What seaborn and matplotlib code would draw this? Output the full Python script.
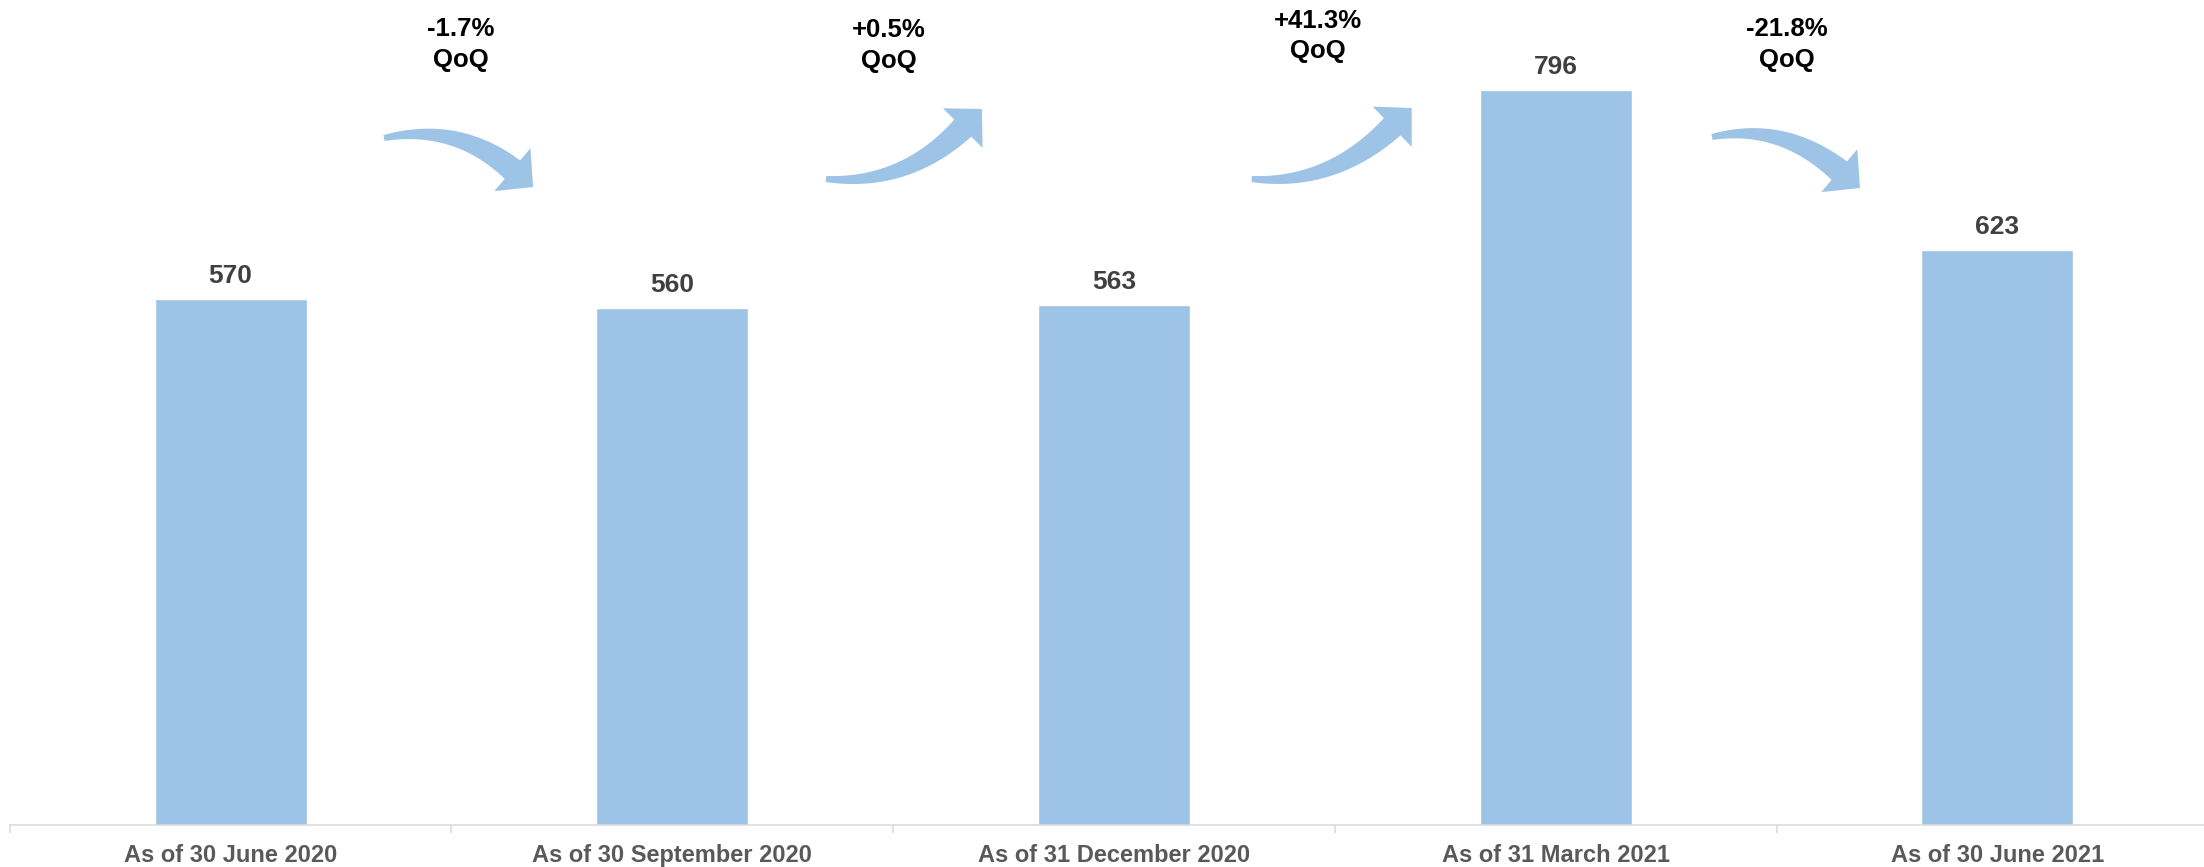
import numpy as np
import pandas as pd
import matplotlib
matplotlib.use("Agg")
import matplotlib.pyplot as plt
import seaborn as sns
from matplotlib.patches import Polygon
from matplotlib.transforms import IdentityTransform, blended_transform_factory

# ---- data ----
periods = ["As of 30 June 2020", "As of 30 September 2020", "As of 31 December 2020",
           "As of 31 March 2021", "As of 30 June 2021"]
values = [570, 560, 563, 796, 623]
qoq_changes = ["-1.7%", "+0.5%", "+41.3%", "-21.8%"]

BAR_COLOR = "#9DC3E6"
VALUE_COLOR = "#404040"
TICK_COLOR = "#595959"
AXIS_COLOR = "#D9D9D9"

sns.set_style("white")
plt.rcParams["font.family"] = ["Liberation Sans", "DejaVu Sans"]

W, H = 2204, 867
fig = plt.figure(figsize=(W / 100, H / 100), dpi=100)
ax = fig.add_axes([9.7 / W, 42 / H, 2208.5 / W, 825 / H])

df = pd.DataFrame({"period": periods, "value": values})
sns.barplot(data=df, x="period", y="value", color=BAR_COLOR, saturation=1,
            width=0.344, ax=ax)

ax.set_xlim(-0.5, len(periods) - 0.5)
ax.set_ylim(0, 825 / 0.9234)
ax.set_xlabel("")
ax.set_ylabel("")
ax.set_yticks([])
for side in ("left", "right", "top"):
    ax.spines[side].set_visible(False)
ax.spines["bottom"].set_color(AXIS_COLOR)
ax.spines["bottom"].set_linewidth(1.1)

# category labels and boundary ticks
ax.tick_params(axis="x", which="major", bottom=True, length=0, pad=14,
               labelsize=17, labelcolor=TICK_COLOR)
for lab in ax.get_xticklabels():
    lab.set_fontweight("bold")
ax.set_xticks(np.arange(-0.5, len(periods), 1.0), minor=True)
ax.tick_params(axis="x", which="minor", bottom=True, length=5.8, width=1.1,
               color=AXIS_COLOR, direction="out")

# value labels above bars
for i, v in enumerate(values):
    ax.annotate(f"{v}", (i, v), xytext=(0, 11.5), textcoords="offset points",
                ha="center", va="baseline", fontsize=19, fontweight="bold",
                color=VALUE_COLOR)

# quarter-on-quarter labels between bars (x in data, y in figure pixels from top)
label_x = [0.522, 1.491, 2.461, 3.524]
label_base = [(36, 67), (37, 68), (28, 58), (36, 67)]
trans = blended_transform_factory(ax.transData, fig.transFigure)
for x, (b1, b2), txt in zip(label_x, label_base, qoq_changes):
    ax.text(x, 1 - b1 / H, txt, transform=trans, ha="center", va="baseline",
            fontsize=18.5, fontweight="bold", color="black")
    ax.text(x, 1 - b2 / H, "QoQ", transform=trans, ha="center", va="baseline",
            fontsize=18.5, fontweight="bold", color="black")


def curved_arrow(start, tip, a0, a1, w0=6.0, w1=24.0, head_w=56.0, head_len=27.0):
    """Tapered curved arrow; x in data units, y in pixels from the top edge."""
    def to_disp(p):
        x = ax.transData.transform((p[0], 0))[0]
        return np.array([x, H - p[1]])

    S = to_disp(start)
    T = to_disp(tip)
    d0 = np.array([np.cos(np.radians(a0)), np.sin(np.radians(a0))])
    d1 = np.array([np.cos(np.radians(a1)), np.sin(np.radians(a1))])
    B = T - d1 * head_len
    s, _ = np.linalg.solve(np.column_stack([d0, d1]), B - S)
    C = S + s * d0
    t = np.linspace(0, 1, 80)[:, None]
    pts = (1 - t) ** 2 * S + 2 * (1 - t) * t * C + t ** 2 * B
    der = 2 * (1 - t) * (C - S) + 2 * t * (B - C)
    der /= np.linalg.norm(der, axis=1)[:, None]
    nrm = np.column_stack([-der[:, 1], der[:, 0]])
    half = (w0 + (w1 - w0) * t) / 2
    left = pts + nrm * half
    right = pts - nrm * half
    n1 = np.array([-d1[1], d1[0]])
    poly = np.vstack([left, B + n1 * head_w / 2, T, B - n1 * head_w / 2, right[::-1]])
    fig.add_artist(Polygon(poly, closed=True, transform=IdentityTransform(),
                           facecolor=BAR_COLOR, edgecolor="none"))


curved_arrow((0.3475, 138), (0.685, 187), 12, -40)
curved_arrow((1.348, 179), (1.701, 109), -5, 45)
curved_arrow((2.312, 179), (2.674, 108), -5, 44)
curved_arrow((3.354, 137), (3.689, 188), 12, -40)

fig.savefig("out.png", dpi=100)
